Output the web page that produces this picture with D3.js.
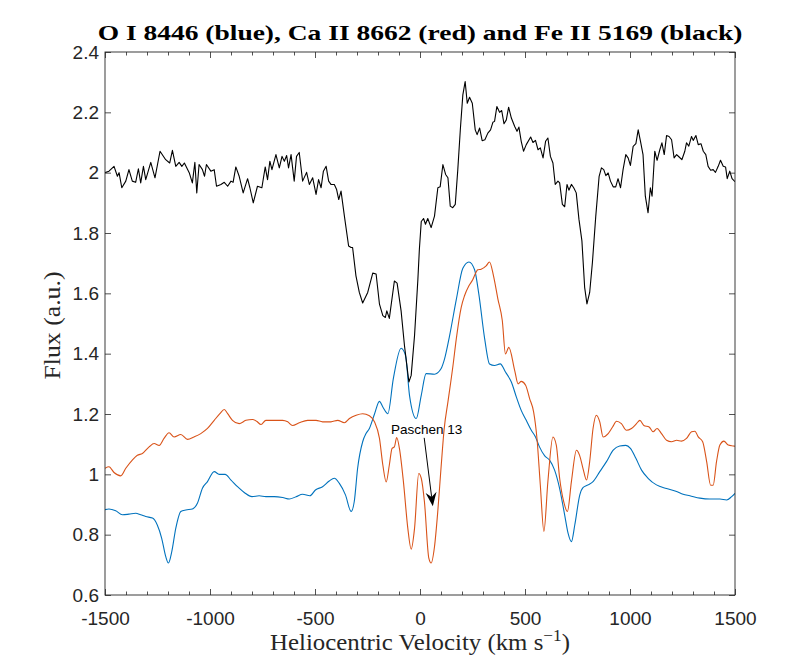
<!DOCTYPE html>
<html>
<head>
<meta charset="utf-8">
<script src="https://cdn.jsdelivr.net/npm/d3@7"></script>
<style>
  body { margin: 0; background: #fff; }
  svg { display: block; }
</style>
</head>
<body>
<svg id="chart" width="811" height="670"></svg>
<script>
// ---- data : [velocity km/s, flux a.u.] ----
const feII = [
  [-1500,2.00],[-1481,2.005],[-1457,2.021],[-1441,1.988],[-1433,2.0],[-1420,1.95],[-1401,1.972],[-1386,2.01],
  [-1370,1.972],[-1354,1.968],[-1341,2.013],[-1330,1.966],[-1317,2.021],[-1306,1.977],[-1282,2.034],[-1262,1.983],
  [-1238,2.071],[-1211,2.043],[-1192,2.032],[-1179,2.074],[-1163,2.021],[-1147,2.034],[-1134,2.021],[-1122,2.032],
  [-1099,2.0],[-1084,1.966],[-1072,2.034],[-1063,1.933],[-1052,2.027],[-1036,2.01],[-1026,1.988],[-1017,2.027],
  [-996,2.005],[-980,2.01],[-969,1.955],[-948,1.961],[-932,1.968],[-916,1.955],[-900,1.972],[-890,1.968],
  [-877,2.019],[-861,1.988],[-842,1.933],[-821,1.98],[-810,1.95],[-794,1.9],[-774,1.955],[-753,1.95],
  [-737,2.019],[-726,1.977],[-715,2.038],[-705,2.01],[-686,2.06],[-670,2.016],[-657,2.054],[-646,2.038],
  [-635,2.057],[-626,2.016],[-614,2.06],[-599,1.972],[-588,2.054],[-575,2.067],[-559,1.972],[-540,2.001],
  [-527,1.961],[-511,1.983],[-495,1.928],[-483,1.977],[-471,1.95],[-460,2.005],[-447,2.021],[-435,1.972],
  [-424,1.961],[-408,1.961],[-397,1.944],[-387,1.911],[-376,1.939],[-360,1.856],[-340,1.757],[-328,1.752],
  [-321,1.752],[-305,1.658],[-289,1.603],[-273,1.568],[-249,1.603],[-225,1.667],[-209,1.664],[-193,1.564],
  [-177,1.526],[-165,1.52],[-158,1.542],[-146,1.517],[-122,1.641],[-109,1.634],[-90,1.542],[-74,1.427],
  [-53,1.306],[-42,1.328],[-26,1.46],[-10,1.647],[-3,1.746],[6,1.838],[17,1.848],[26,1.829],
  [37,1.848],[53,1.818],[69,1.856],[85,1.95],[96,1.953],[109,2.027],[122,1.994],[133,1.983],
  [144,1.889],[156,1.884],[168,1.895],[180,2.01],[192,2.142],[204,2.258],[215,2.302],[225,2.23],
  [236,2.25],[249,2.23],[263,2.142],[272,2.126],[284,2.148],[296,2.106],[309,2.109],[323,2.131],
  [336,2.142],[347,2.167],[355,2.17],[366,2.219],[379,2.2],[389,2.206],[400,2.162],[411,2.175],
  [422,2.217],[435,2.181],[451,2.153],[462,2.137],[471,2.151],[482,2.104],[493,2.071],[506,2.093],
  [527,2.118],[538,2.1],[550,2.107],[562,2.076],[573,2.082],[586,2.049],[598,2.104],[609,2.115],
  [621,2.054],[633,2.032],[644,1.961],[657,1.972],[665,1.966],[678,1.895],[689,1.887],[700,1.961],
  [709,1.942],[721,1.961],[732,1.95],[744,1.933],[757,1.845],[771,1.774],[784,1.62],[795,1.565],
  [808,1.603],[821,1.702],[837,1.856],[853,1.988],[864,2.016],[875,2.01],[885,1.99],[896,1.999],
  [907,1.972],[920,1.953],[932,1.953],[943,1.98],[955,1.95],[967,2.01],[980,2.06],[991,2.049],
  [1002,2.024],[1015,2.087],[1028,2.096],[1039,2.142],[1050,2.104],[1062,2.06],[1073,1.922],[1086,1.867],
  [1097,1.95],[1105,1.922],[1118,2.071],[1129,2.041],[1142,2.076],[1152,2.099],[1163,2.06],[1174,2.123],
  [1186,2.12],[1198,2.109],[1210,2.049],[1222,2.06],[1234,2.052],[1247,2.043],[1261,2.071],[1269,2.099],
  [1280,2.088],[1293,2.12],[1301,2.107],[1314,2.123],[1325,2.093],[1338,2.096],[1349,2.071],[1361,2.06],
  [1372,2.021],[1384,2.008],[1396,2.01],[1407,2.001],[1420,2.021],[1431,2.041],[1444,2.021],[1455,2.019],
  [1463,1.98],[1475,2.005],[1486,1.98],[1500,1.97]
];

const caII = [
  [-1500,1.02],[-1481,1.025],[-1457,1.006],[-1425,0.995],[-1401,1.02],[-1370,1.047],[-1346,1.063],[-1322,1.069],
  [-1290,1.091],[-1266,1.102],[-1242,1.096],[-1219,1.119],[-1195,1.138],[-1171,1.124],[-1139,1.132],[-1107,1.116],
  [-1076,1.124],[-1044,1.135],[-1012,1.152],[-980,1.179],[-953,1.201],[-932,1.215],[-916,1.201],[-893,1.179],
  [-861,1.168],[-829,1.179],[-798,1.182],[-778,1.176],[-757,1.165],[-734,1.179],[-686,1.179],[-654,1.179],
  [-630,1.174],[-607,1.162],[-575,1.171],[-535,1.179],[-495,1.179],[-464,1.174],[-424,1.174],[-392,1.179],
  [-360,1.171],[-336,1.185],[-304,1.196],[-273,1.201],[-241,1.194],[-217,1.174],[-193,1.119],[-177,1.031],
  [-161,0.975],[-146,1.031],[-133,1.086],[-122,1.091],[-111,1.122],[-98,1.086],[-79,0.976],[-58,0.821],
  [-42,0.752],[-26,0.821],[-6,1.003],[6,0.987],[21,0.91],[42,0.722],[53,0.706],[69,0.76],
  [85,0.88],[100,1.02],[115,1.15],[133,1.24],[157,1.36],[173,1.45],[196,1.553],[212,1.592],
  [233,1.625],[251,1.645],[267,1.67],[275,1.678],[291,1.68],[315,1.691],[331,1.704],[350,1.658],
  [371,1.581],[392,1.509],[407,1.399],[423,1.421],[451,1.344],[467,1.300],[482,1.308],[503,1.295],
  [522,1.251],[541,1.207],[557,1.119],[573,0.964],[590,0.811],[609,0.976],[633,1.124],[649,1.097],
  [665,0.987],[684,0.91],[702,0.877],[721,0.976],[745,1.08],[760,1.063],[776,1.020],[793,0.981],
  [808,1.042],[824,1.152],[840,1.196],[856,1.174],[872,1.124],[896,1.135],[917,1.157],[936,1.176],
  [959,1.168],[983,1.146],[1007,1.152],[1031,1.168],[1047,1.179],[1066,1.162],[1091,1.157],[1110,1.141],
  [1129,1.152],[1150,1.135],[1174,1.113],[1198,1.108],[1222,1.113],[1245,1.110],[1269,1.119],[1293,1.141],
  [1309,1.143],[1325,1.124],[1346,1.108],[1365,1.042],[1384,0.964],[1396,0.964],[1412,1.042],[1428,1.097],
  [1447,1.110],[1468,1.097],[1492,1.094],[1500,1.093]
];

const oI = [
  [-1500,0.883],[-1481,0.885],[-1449,0.879],[-1417,0.866],[-1386,0.868],[-1354,0.871],[-1330,0.866],[-1306,0.860],
  [-1274,0.855],[-1251,0.832],[-1230,0.788],[-1211,0.728],[-1198,0.706],[-1182,0.744],[-1163,0.821],[-1139,0.877],
  [-1115,0.882],[-1084,0.885],[-1060,0.904],[-1036,0.954],[-1012,0.976],[-980,1.009],[-956,1.000],[-928,1.000],
  [-900,0.981],[-869,0.959],[-837,0.94],[-800,0.926],[-766,0.929],[-734,0.926],[-694,0.926],[-654,0.923],
  [-622,0.918],[-590,0.926],[-559,0.934],[-524,0.929],[-498,0.948],[-464,0.959],[-432,0.978],[-408,0.987],
  [-384,0.970],[-355,0.932],[-328,0.877],[-313,0.910],[-297,1.020],[-273,1.108],[-257,1.135],[-241,1.152],
  [-217,1.199],[-193,1.242],[-177,1.223],[-153,1.201],[-127,1.317],[-90,1.418],[-69,1.394],[-50,1.262],
  [-18,1.185],[6,1.262],[29,1.334],[69,1.332],[100,1.35],[117,1.383],[141,1.46],[173,1.58],
  [204,1.683],[233,1.704],[260,1.678],[280,1.598],[308,1.449],[331,1.366],[355,1.361],[382,1.366],
  [407,1.339],[435,1.306],[459,1.256],[482,1.212],[506,1.179],[530,1.146],[550,1.124],[569,1.091],
  [594,1.061],[617,1.047],[641,1.014],[665,0.953],[689,0.865],[705,0.805],[721,0.777],[737,0.832],
  [761,0.932],[776,0.956],[800,0.965],[824,0.976],[856,1.009],[888,1.042],[920,1.080],[951,1.094],
  [980,1.096],[1002,1.086],[1028,1.053],[1055,1.014],[1086,0.987],[1126,0.965],[1174,0.953],[1222,0.943],
  [1253,0.934],[1285,0.929],[1333,0.921],[1380,0.918],[1428,0.918],[1460,0.915],[1484,0.926],[1500,0.937]
];

const xTicks = [-1500, -1000, -500, 0, 500, 1000, 1500];
const yTicks = [0.6, 0.8, 1, 1.2, 1.4, 1.6, 1.8, 2, 2.2, 2.4];
const titleText = "O I 8446 (blue), Ca II 8662 (red) and Fe II 5169 (black)";
const paschen = { label: "Paschen 13", textAt: [32, 1.134], from: [20, 1.121], to: [61, 0.894] };

// ---- layout ----
const box = { left: 105, right: 735, top: 52, bottom: 595 };
const axisColor = "#262626";
const tickFont = "'Liberation Sans', Arial, Helvetica, sans-serif";
const texFont = "'Liberation Serif', 'DejaVu Serif', serif";

const svg = d3.select("#chart");

const x = d3.scaleLinear().domain([-1500, 1500]).range([box.left, box.right]);
const y = d3.scaleLinear().domain([0.6, 2.4]).range([box.bottom, box.top]);

svg.append("defs").append("clipPath").attr("id", "plotclip")
  .append("rect")
  .attr("x", box.left).attr("y", box.top)
  .attr("width", box.right - box.left).attr("height", box.bottom - box.top);

// ---- series ----
const smooth = d3.line().x(d => x(d[0])).y(d => y(d[1])).curve(d3.curveMonotoneX);
const jagged = d3.line().x(d => x(d[0])).y(d => y(d[1]));

const plot = svg.append("g").attr("clip-path", "url(#plotclip)");
plot.append("path").datum(oI).attr("d", smooth)
  .attr("fill", "none").attr("stroke", "#0072BD").attr("stroke-width", 1.1);
plot.append("path").datum(caII).attr("d", smooth)
  .attr("fill", "none").attr("stroke", "#D95319").attr("stroke-width", 1.1);
plot.append("path").datum(feII).attr("d", jagged)
  .attr("fill", "none").attr("stroke", "#000").attr("stroke-width", 1.1)
  .attr("stroke-linejoin", "round");

// ---- axes (ticks pointing inward, MATLAB style) ----
const minorX = d3.range(-1400, 1500, 100).filter(v => v % 500 !== 0);

function styleAxis(g) {
  g.select(".domain").remove();
  g.selectAll(".tick line").attr("stroke", axisColor).attr("stroke-width", 0.8);
  g.selectAll(".tick text").attr("fill", axisColor)
    .style("font-family", tickFont).style("font-size", "19px");
}

svg.append("g").attr("transform", `translate(0,${box.bottom})`)
  .call(d3.axisBottom(x).tickValues(xTicks).tickSize(-6).tickPadding(17).tickFormat(d => String(d)))
  .call(styleAxis);
svg.append("g").attr("transform", `translate(0,${box.bottom})`)
  .call(d3.axisBottom(x).tickValues(minorX).tickSize(-3.5).tickFormat(""))
  .call(styleAxis);
svg.append("g").attr("transform", `translate(0,${box.top})`)
  .call(d3.axisTop(x).tickValues(xTicks).tickSize(-6).tickFormat(""))
  .call(styleAxis);
svg.append("g").attr("transform", `translate(0,${box.top})`)
  .call(d3.axisTop(x).tickValues(minorX).tickSize(-3.5).tickFormat(""))
  .call(styleAxis);
svg.append("g").attr("transform", `translate(${box.left},0)`)
  .call(d3.axisLeft(y).tickValues(yTicks).tickSize(-6).tickPadding(6).tickFormat(d => String(d)))
  .call(styleAxis);
svg.append("g").attr("transform", `translate(${box.right},0)`)
  .call(d3.axisRight(y).tickValues(yTicks).tickSize(-6).tickFormat(""))
  .call(styleAxis);

svg.append("rect")
  .attr("x", box.left).attr("y", box.top)
  .attr("width", box.right - box.left).attr("height", box.bottom - box.top)
  .attr("fill", "none").attr("stroke", axisColor).attr("stroke-width", 0.9);

// ---- annotation: Paschen 13 ----
const tail = [x(paschen.from[0]), y(paschen.from[1])];
const tip = [x(paschen.to[0]), y(paschen.to[1])];
const len = Math.hypot(tip[0] - tail[0], tip[1] - tail[1]);
const u = [(tip[0] - tail[0]) / len, (tip[1] - tail[1]) / len];
const n = [-u[1], u[0]];
const headL = 14, headW = 5.5, notch = 4.5;
const back = [tip[0] - headL * u[0], tip[1] - headL * u[1]];
const mid = [tip[0] - (headL - notch) * u[0], tip[1] - (headL - notch) * u[1]];

svg.append("line")
  .attr("x1", tail[0]).attr("y1", tail[1]).attr("x2", mid[0]).attr("y2", mid[1])
  .attr("stroke", "#000").attr("stroke-width", 1);
svg.append("path")
  .attr("d", d3.line()([
    tip,
    [back[0] + headW * n[0], back[1] + headW * n[1]],
    mid,
    [back[0] - headW * n[0], back[1] - headW * n[1]]
  ]) + "Z")
  .attr("fill", "#000");
svg.append("text")
  .attr("x", x(paschen.textAt[0])).attr("y", y(paschen.textAt[1]))
  .attr("text-anchor", "middle")
  .style("font-family", tickFont).style("font-size", "13.5px")
  .text(paschen.label);

// ---- titles (serif stretched a little to mimic the wider TeX face) ----
svg.append("text")
  .attr("transform", "translate(420,40) scale(1.25,1)")
  .attr("text-anchor", "middle")
  .style("font-family", texFont).style("font-size", "22px").style("font-weight", "bold")
  .text(titleText);

const xl = svg.append("text")
  .attr("transform", "translate(420,650) scale(1.08,1)")
  .attr("text-anchor", "middle")
  .style("font-family", texFont).style("font-size", "23px")
  .attr("fill", axisColor);
xl.append("tspan").text("Heliocentric Velocity (km s");
xl.append("tspan").attr("dy", -9).style("font-size", "16px").text("\u22121");
xl.append("tspan").attr("dy", 9).text(")");

svg.append("text")
  .attr("transform", `translate(60,${(box.top + box.bottom) / 2 + 2}) rotate(-90) scale(1.12,1)`)
  .attr("text-anchor", "middle")
  .style("font-family", texFont).style("font-size", "23px")
  .attr("fill", axisColor)
  .text("Flux (a.u.)");
</script>
</body>
</html>
